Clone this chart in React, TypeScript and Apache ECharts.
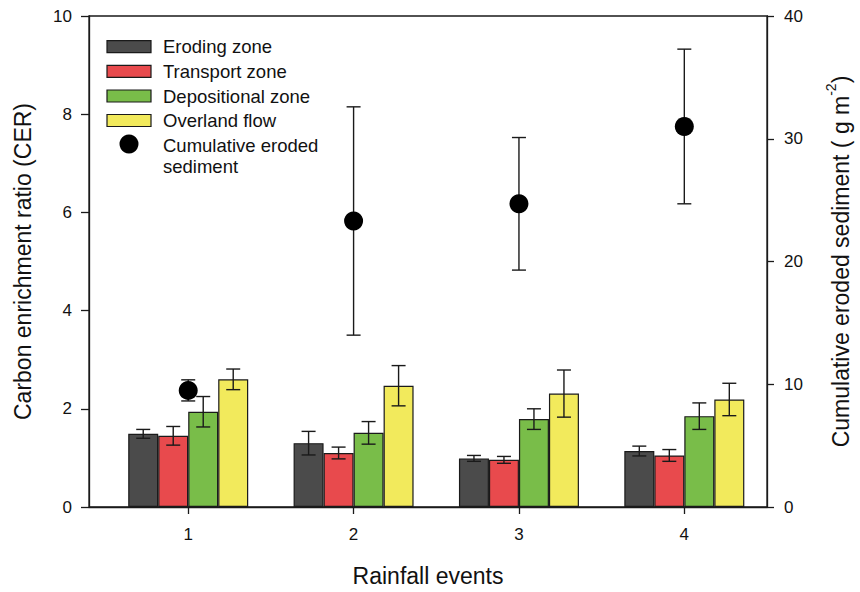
import React, { useEffect, useRef } from 'react';
import * as echarts from 'echarts';

// ---- data ----
const events = [1, 2, 3, 4];
const zoneNames = ['Eroding zone', 'Transport zone', 'Depositional zone', 'Overland flow'];
const erodingCER = [1.49, 1.30, 0.99, 1.14];
const erodingErr = [0.09, 0.24, 0.06, 0.10];
const transportCER = [1.45, 1.10, 0.96, 1.05];
const transportErr = [0.19, 0.12, 0.07, 0.12];
const depositionalCER = [1.94, 1.51, 1.79, 1.85];
const depositionalErr = [0.31, 0.23, 0.21, 0.27];
const overlandCER = [2.60, 2.47, 2.31, 2.19];
const overlandErr = [0.21, 0.41, 0.48, 0.33];
const sedimentName = 'Cumulative eroded sediment';
const sediment = [9.5, 23.3, 24.7, 31.0];
const sedimentErr = [0.86, 9.3, 5.4, 6.3];
const cerAxis = { min: 0, max: 10, interval: 2 };
const sedAxis = { min: 0, max: 40, interval: 10 };

const zoneValues = [erodingCER, transportCER, depositionalCER, overlandCER];
const zoneErrors = [erodingErr, transportErr, depositionalErr, overlandErr];
const zoneColors = ['#4b4b4b', '#e84a4d', '#79bd49', '#f2ea5c'];

const FONT = '"Liberation Sans", Arial, sans-serif';
const BAR_W = 30;
const INK = '#1a1a1a';

function errorRender(params: any, api: any) {
  const x = api.value(0);
  const lo = api.value(1);
  const hi = api.value(2);
  const k = api.value(3);
  const pLo = api.coord([x, lo]);
  const pHi = api.coord([x, hi]);
  const cx = pLo[0] + (k - 1.5) * BAR_W;
  const half = 7;
  const style = { stroke: INK, lineWidth: 1.4 };
  return {
    type: 'group',
    children: [
      { type: 'line', shape: { x1: cx, y1: pLo[1], x2: cx, y2: pHi[1] }, style },
      { type: 'line', shape: { x1: cx - half, y1: pLo[1], x2: cx + half, y2: pLo[1] }, style },
      { type: 'line', shape: { x1: cx - half, y1: pHi[1], x2: cx + half, y2: pHi[1] }, style },
    ],
  };
}

export default function App() {
  const ref = useRef<HTMLDivElement>(null);

  useEffect(() => {
    document.body.style.margin = '0';
    if (!ref.current) return;
    const chart = echarts.init(ref.current, undefined, { renderer: 'svg' });

    const barSeries = zoneNames.map((name, i) => ({
      name,
      type: 'bar',
      xAxisIndex: 0,
      yAxisIndex: 0,
      barWidth: BAR_W,
      barGap: '0%',
      data: events.map((e, j) => [e, zoneValues[i][j]]),
      itemStyle: { color: zoneColors[i], borderColor: INK, borderWidth: 1.2 },
      z: 2,
    }));

    const barErrData: number[][] = [];
    zoneNames.forEach((_, i) => {
      events.forEach((e, j) => {
        barErrData.push([e, zoneValues[i][j] - zoneErrors[i][j], zoneValues[i][j] + zoneErrors[i][j], i]);
      });
    });
    const sedErrData = events.map((e, j) => [e, sediment[j] - sedimentErr[j], sediment[j] + sedimentErr[j], 1.5]);

    const legendRows = [46.7, 71.3, 96, 120.5];
    const LEG_FONT = `18.5px ${FONT}`;
    const graphic: any[] = [];
    zoneNames.forEach((name, i) => {
      graphic.push({
        type: 'rect',
        shape: { x: 107, y: legendRows[i] - 6, width: 44, height: 12 },
        style: { fill: zoneColors[i], stroke: INK, lineWidth: 1.2 },
      });
      graphic.push({
        type: 'text',
        x: 163,
        y: legendRows[i],
        style: { text: name, font: LEG_FONT, fill: '#111', verticalAlign: 'middle' },
      });
    });
    graphic.push({ type: 'circle', shape: { cx: 129, cy: 144, r: 9.5 }, style: { fill: '#000' } });
    graphic.push({
      type: 'text',
      x: 163,
      y: 145,
      style: { text: 'Cumulative eroded', font: LEG_FONT, fill: '#111', verticalAlign: 'middle' },
    });
    graphic.push({
      type: 'text',
      x: 163,
      y: 166.7,
      style: { text: 'sediment', font: LEG_FONT, fill: '#111', verticalAlign: 'middle' },
    });

    chart.setOption({
      animation: false,
      textStyle: { fontFamily: FONT },
      grid: { left: 89, right: 84, top: 16, bottom: 83, show: true, borderColor: INK, borderWidth: 1.3 },
      xAxis: {
        type: 'value',
        min: 0.4,
        max: 4.5,
        name: 'Rainfall events',
        nameLocation: 'middle',
        nameGap: 57,
        nameTextStyle: { fontSize: 23, color: '#111', fontFamily: FONT },
        axisLine: { lineStyle: { color: INK, width: 1.3 } },
        axisTick: { show: true, length: 7, customValues: events, lineStyle: { color: INK, width: 1.3 } },
        axisLabel: { customValues: events, fontSize: 17, color: '#111', margin: 19, formatter: (v: number) => String(Math.round(v)) },
        splitLine: { show: false },
      },
      yAxis: [
        {
          type: 'value',
          position: 'left',
          min: cerAxis.min,
          max: cerAxis.max,
          interval: cerAxis.interval,
          name: 'Carbon enrichment ratio (CER)',
          nameLocation: 'middle',
          nameGap: 55,
          nameTextStyle: { fontSize: 23, color: '#111', fontFamily: FONT },
          axisLine: { show: true, lineStyle: { color: INK, width: 1.3 } },
          axisTick: { show: true, length: 8, lineStyle: { color: INK, width: 1.3 } },
          axisLabel: { fontSize: 17, color: '#111', margin: 17 },
          splitLine: { show: false },
        },
        {
          type: 'value',
          position: 'right',
          min: sedAxis.min,
          max: sedAxis.max,
          interval: sedAxis.interval,
          name: '{a|Cumulative eroded sediment ( g m}{s|-2}{a|)}',
          nameLocation: 'middle',
          nameGap: 57,
          nameRotate: 90,
          nameTextStyle: {
            fontSize: 23,
            color: '#111',
            fontFamily: FONT,
            rich: {
              a: { fontSize: 23, color: '#111', fontFamily: FONT, lineHeight: 28, verticalAlign: 'bottom' },
              s: { fontSize: 14, color: '#111', fontFamily: FONT, lineHeight: 28, verticalAlign: 'top' },
            },
          },
          axisLine: { show: true, lineStyle: { color: INK, width: 1.3 } },
          axisTick: { show: true, length: 7, lineStyle: { color: INK, width: 1.3 } },
          axisLabel: { fontSize: 17, color: '#111', margin: 17 },
          splitLine: { show: false },
        },
      ],
      series: [
        ...barSeries,
        {
          name: 'zone error',
          type: 'custom',
          xAxisIndex: 0,
          yAxisIndex: 0,
          renderItem: errorRender,
          encode: { x: 0, y: [1, 2] },
          data: barErrData,
          z: 3,
        },
        {
          name: 'sediment error',
          type: 'custom',
          xAxisIndex: 0,
          yAxisIndex: 1,
          renderItem: errorRender,
          encode: { x: 0, y: [1, 2] },
          data: sedErrData,
          z: 4,
        },
        {
          name: sedimentName,
          type: 'scatter',
          xAxisIndex: 0,
          yAxisIndex: 1,
          symbol: 'circle',
          symbolSize: 19,
          itemStyle: { color: '#000', opacity: 1 },
          data: events.map((e, j) => [e, sediment[j]]),
          z: 5,
        },
      ],
      graphic,
    });

    return () => {
      chart.dispose();
    };
  }, []);

  return <div ref={ref} style={{ width: 860, height: 592 }} />;
}
